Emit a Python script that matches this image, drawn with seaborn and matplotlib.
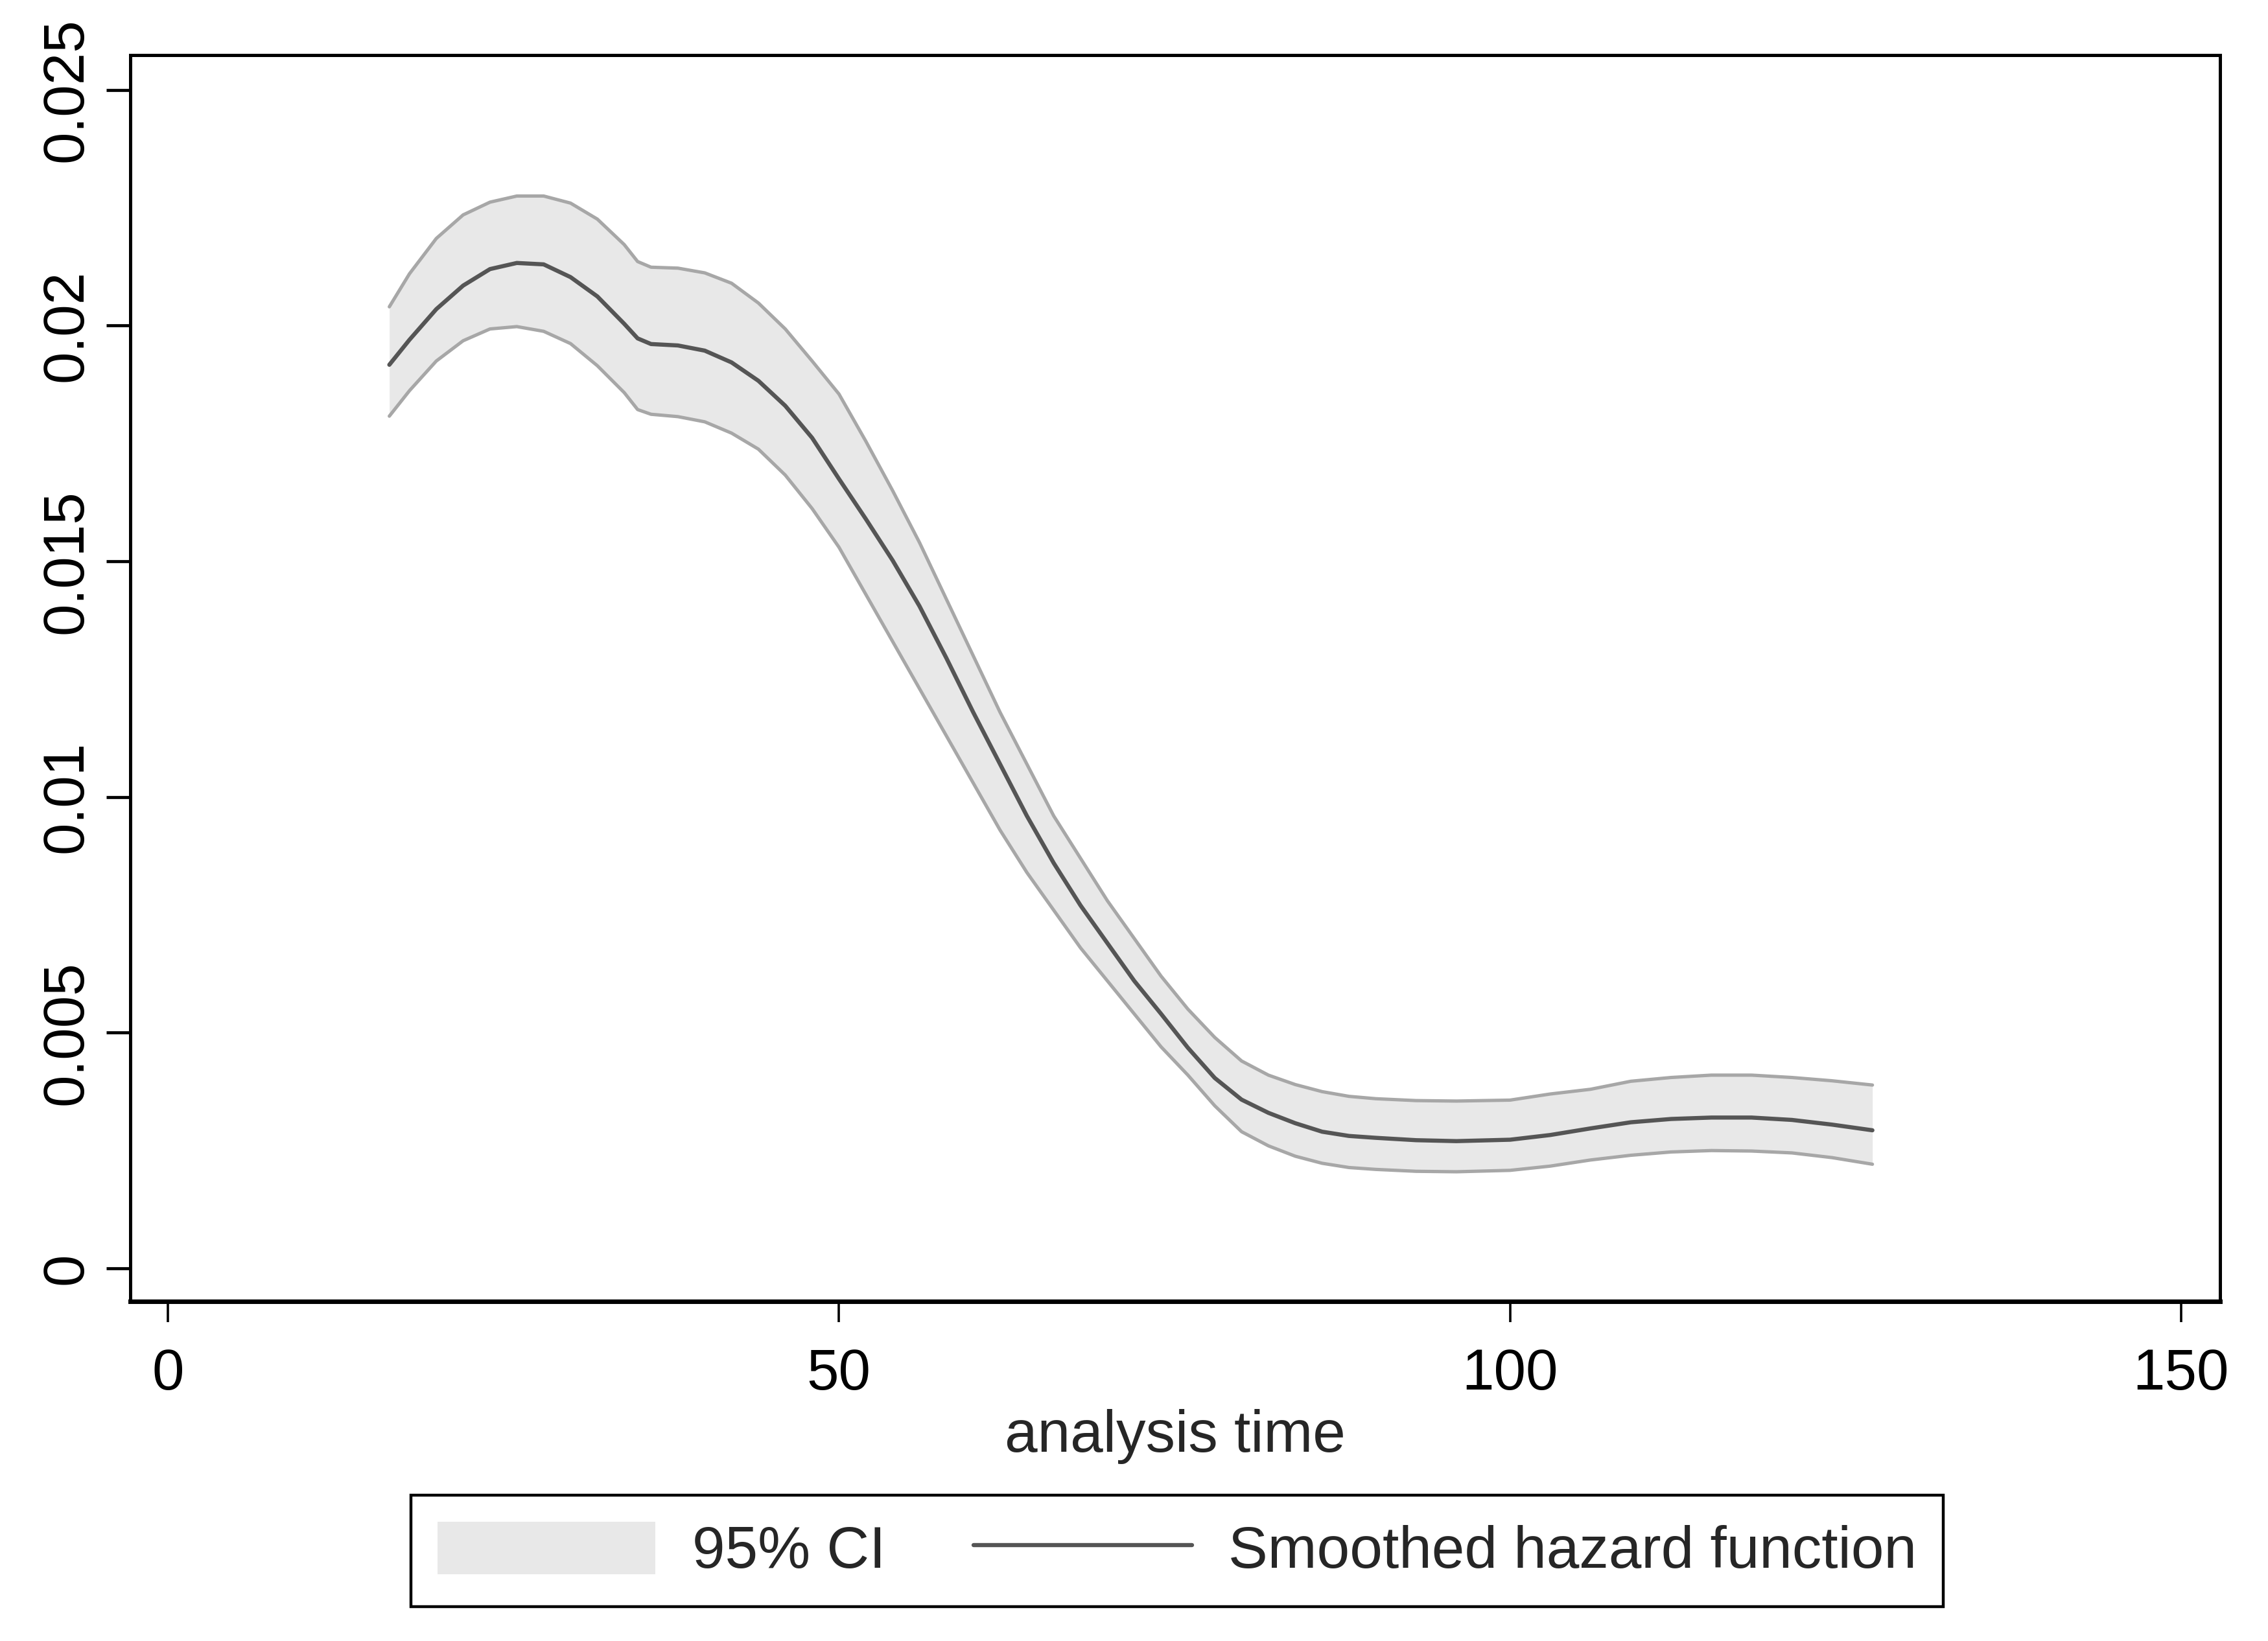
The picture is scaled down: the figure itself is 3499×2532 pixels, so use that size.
import numpy as np
import pandas as pd
import matplotlib
matplotlib.use("Agg")
import matplotlib.pyplot as plt
import seaborn as sns
from matplotlib.patches import Patch
from matplotlib.lines import Line2D

# ---- data ----
analysis_time = [16.5, 18, 20, 22, 24, 26, 28, 30, 32, 34, 35, 36, 38, 40, 42, 44, 46, 48,
                 50, 52, 54, 56, 58, 60, 62, 64, 66, 68, 70, 72, 74, 76, 78, 80, 82, 84,
                 86, 88, 90, 93, 96, 100, 103, 106, 109, 112, 115, 118, 121, 124, 127]

hazard = [0.01917, 0.0197, 0.02035, 0.02085, 0.0212, 0.02133, 0.0213, 0.02103, 0.02062, 0.02004,
          0.01973, 0.01961, 0.01958, 0.01947, 0.01922, 0.01883, 0.0183, 0.01762,
          0.01675, 0.0159, 0.01502, 0.01405, 0.01295, 0.0118, 0.0107, 0.0096, 0.0086, 0.0077,
          0.0069, 0.0061, 0.0054, 0.00468, 0.00404, 0.00358, 0.0033, 0.00308,
          0.0029, 0.00281, 0.00277, 0.00272, 0.0027, 0.00273, 0.00283, 0.00297, 0.0031,
          0.00317, 0.0032, 0.0032, 0.00315, 0.00305, 0.00293]

ci_upper = [0.0204, 0.0211, 0.02185, 0.02235, 0.02262, 0.02275, 0.02275, 0.0226, 0.02226, 0.02172,
            0.02136, 0.02124, 0.02122, 0.02112, 0.0209, 0.02048, 0.01993, 0.01925,
            0.01855, 0.01755, 0.0165, 0.0154, 0.0142, 0.0130, 0.0118, 0.0107, 0.0096, 0.0087,
            0.0078, 0.0070, 0.0062, 0.0055, 0.0049, 0.0044, 0.0041, 0.0039,
            0.00375, 0.00365, 0.0036, 0.00356, 0.00355, 0.00357, 0.0037, 0.0038, 0.00397,
            0.00405, 0.0041, 0.0041, 0.00405, 0.00398, 0.00389]

ci_lower = [0.01808, 0.01862, 0.01925, 0.01968, 0.01993, 0.01998, 0.01988, 0.01962, 0.01915, 0.01858,
            0.01822, 0.01812, 0.01807, 0.01796, 0.01772, 0.01738, 0.01683, 0.01612,
            0.0153, 0.0143, 0.0133, 0.0123, 0.0113, 0.0103, 0.0093, 0.0084, 0.0076, 0.0068,
            0.0061, 0.0054, 0.0047, 0.0041, 0.00345, 0.0029, 0.0026, 0.00238,
            0.00223, 0.00214, 0.0021, 0.00206, 0.00205, 0.00208, 0.00217, 0.0023, 0.0024,
            0.00247, 0.0025, 0.00249, 0.00245, 0.00235, 0.00221]

x_ticks = [0, 50, 100, 150]
x_tick_labels = ["0", "50", "100", "150"]
y_ticks = [0, 0.005, 0.01, 0.015, 0.02, 0.025]
y_tick_labels = ["0", "0.005", "0.01", "0.015", "0.02", "0.025"]
x_label = "analysis time"
legend_labels = ["95% CI", "Smoothed hazard function"]

df = pd.DataFrame({"t": analysis_time, "h": hazard, "lo": ci_lower, "hi": ci_upper})

# ---- style ----
sns.set_style("ticks")
plt.rcParams["font.family"] = ["Liberation Sans", "DejaVu Sans"]

FILL = "#E8E8E8"
CI_LINE = "#A7A7A7"
MAIN = "#555555"
FS_TICK = 64
FS_TEXT = 65.5

W, H = 3499, 2532
fig = plt.figure(figsize=(W / 100, H / 100), dpi=100)
L, R, T, B = 201, 3425, 85, 2008
ax = fig.add_axes([L / W, 1 - B / H, (R - L) / W, (B - T) / H])

ax.fill_between(df["t"], df["lo"], df["hi"], color=FILL, lw=0, zorder=1)
sns.lineplot(data=df, x="t", y="hi", ax=ax, color=CI_LINE, lw=3.7, zorder=2, legend=False)
sns.lineplot(data=df, x="t", y="lo", ax=ax, color=CI_LINE, lw=3.7, zorder=2, legend=False)
sns.lineplot(data=df, x="t", y="h", ax=ax, color=MAIN, lw=4.6, zorder=3, legend=False)

ax.set_xlim(-2.8, 152.9)
ax.set_ylim(-0.0007, 0.02574)
ax.set_xticks(x_ticks)
ax.set_xticklabels(x_tick_labels)
ax.set_yticks(y_ticks)
ax.set_yticklabels(y_tick_labels, rotation=90, va="center")

for s in ax.spines.values():
    s.set_visible(True)
    s.set_color("black")
    s.set_linewidth(3.6)
ax.spines["bottom"].set_linewidth(5)

ax.tick_params(axis="y", direction="out", length=27, width=3.4, pad=13,
               labelsize=FS_TICK, colors="black")
ax.tick_params(axis="x", direction="out", length=23, width=2.6, pad=28,
               labelsize=FS_TICK, colors="black")
ax.set_xlabel(x_label, fontsize=FS_TEXT, labelpad=8)
ax.set_ylabel("")
ax.grid(False)

handles = [Patch(facecolor=FILL, edgecolor="none"),
           Line2D([], [], color=MAIN, lw=4.6)]
leg = fig.legend(handles, legend_labels, loc="center",
                 bbox_to_anchor=(1816 / W, 1 - 2393 / H), ncol=2, fontsize=FS_TEXT,
                 frameon=True, fancybox=False, edgecolor="black", framealpha=1,
                 handlelength=3.7, handleheight=1.0, handletextpad=0.62,
                 columnspacing=1.5, borderpad=0.45, borderaxespad=0)
leg.get_frame().set_linewidth(3.2)

fig.savefig("out.png", dpi=100, facecolor="white")
